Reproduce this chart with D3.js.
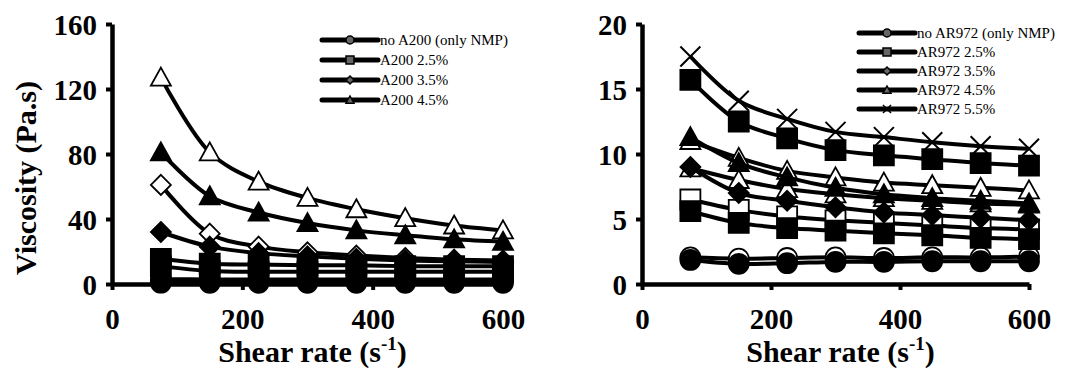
<!DOCTYPE html>
<html>
<head>
<meta charset="utf-8">
<script src="https://cdn.jsdelivr.net/npm/d3@7"></script>
<style>
  body { margin: 0; background: #fff; }
</style>
</head>
<body>
<div id="chart"></div>
<script>
// shear rate (1/s), same for every series
var shearRate = [75, 150, 225, 300, 375, 450, 525, 600];

// left panel: A200 (Pa.s)
var a200CircA = [3, 2.8, 2.8, 2.8, 2.8, 2.8, 2.8, 2.8];
var a200CircB = [0.8, 0.7, 0.7, 0.7, 0.7, 0.7, 0.7, 0.7];
var a200SqA = [15.5, 12.5, 12, 11.5, 11.5, 11, 11, 11];
var a200SqB = [11, 8, 7.5, 7.5, 7.5, 7.5, 7.5, 7.5];
var a200DiaOpen = [61, 31, 23, 19.5, 17.5, 16, 15, 14.5];
var a200DiaFill = [32, 23, 19, 17, 15.5, 14.5, 14, 13.5];
var a200TriOpen = [127, 81, 63, 53, 46, 40.5, 36, 33];
var a200TriFill = [81, 54, 44, 37.5, 33, 30, 27.5, 26];

// right panel: AR972 (Pa.s)
var ar972CircOpen = [2.05, 1.95, 2.0, 2.05, 2.0, 2.05, 2.05, 2.1];
var ar972CircFill = [1.85, 1.55, 1.6, 1.7, 1.7, 1.75, 1.75, 1.75];
var ar972SqOpen = [6.5, 5.7, 5.2, 4.9, 4.7, 4.5, 4.3, 4.2];
var ar972SqFill = [5.6, 4.7, 4.3, 4.1, 3.9, 3.75, 3.55, 3.45];
var ar972TriOpen2 = [8.9, 8.0, 7.3, 6.9, 6.6, 6.4, 6.2, 6.1];
var ar972DiaFill = [9.0, 7.0, 6.4, 5.9, 5.5, 5.3, 5.1, 4.9];
var ar972TriOpen = [11.0, 9.7, 8.7, 8.2, 7.8, 7.6, 7.4, 7.2];
var ar972TriFill = [11.3, 9.3, 8.2, 7.4, 6.9, 6.6, 6.4, 6.2];
var ar972Cross = [17.5, 14.1, 12.7, 11.7, 11.3, 10.9, 10.6, 10.4];
var ar972SqBig = [15.7, 12.5, 11.2, 10.3, 9.9, 9.6, 9.3, 9.1];

var xTicks = [0, 200, 400, 600];
var leftYTicks = [0, 40, 80, 120, 160];
var rightYTicks = [0, 5, 10, 15, 20];

var leftLegend = ["no A200 (only NMP)", "A200 2.5%", "A200 3.5%", "A200 4.5%"];
var rightLegend = ["no AR972 (only NMP)", "AR972 2.5%", "AR972 3.5%", "AR972 4.5%", "AR972 5.5%"];
var leftLegendShapes = ["circle", "square", "diamond", "triangle"];
var rightLegendShapes = ["circle", "square", "diamond", "triangle", "cross"];

var width = 1067, height = 371;
var serif = "'Liberation Serif'";

var svg = d3.select("#chart").append("svg")
  .attr("width", width)
  .attr("height", height);

// marker path, centred on 0,0
function markerPath(shape, s) {
  var h = s / 2;
  if (shape === "circle") {
    return "M" + h + ",0A" + h + "," + h + " 0 1,1 " + (-h) + ",0A" + h + "," + h + " 0 1,1 " + h + ",0Z";
  }
  if (shape === "square") {
    return "M" + (-h) + "," + (-h) + "H" + h + "V" + h + "H" + (-h) + "Z";
  }
  if (shape === "diamond") {
    return "M0," + (-h) + "L" + h + ",0L0," + h + "L" + (-h) + ",0Z";
  }
  if (shape === "triangle") {
    return "M0," + (-h) + "L" + h + "," + (h * 0.8) + "L" + (-h) + "," + (h * 0.8) + "Z";
  }
  // cross (x)
  return "M" + (-h) + "," + (-h) + "L" + h + "," + h + "M" + h + "," + (-h) + "L" + (-h) + "," + h;
}

function drawPanel(opt) {
  var g = svg.append("g");

  var xScale = d3.scaleLinear().domain([0, 600]).range([opt.x0, opt.x1]);
  var yScale = d3.scaleLinear().domain([0, opt.yMax]).range([284, 24]);

  var line = d3.line()
    .x(function(d) { return xScale(d[0]); })
    .y(function(d) { return yScale(d[1]); })
    .curve(d3.curveCatmullRom.alpha(0.5));

  opt.series.forEach(function(s) {
    var pts = shearRate.map(function(x, i) { return [x, s.values[i]]; });
    g.append("path")
      .attr("d", line(pts))
      .attr("fill", "none")
      .attr("stroke", "#000")
      .attr("stroke-width", 4);

    g.selectAll(null).data(pts).enter()
      .append("path")
      .attr("transform", function(d) { return "translate(" + xScale(d[0]) + "," + yScale(d[1]) + ")"; })
      .attr("d", markerPath(s.shape, 20))
      .attr("fill", s.shape === "cross" ? "none" : (s.open ? "#fff" : "#000"))
      .attr("stroke", "#000")
      .attr("stroke-width", s.shape === "cross" ? 2 : 1.8);
  });

  var xAxis = d3.axisBottom(xScale).tickValues(xTicks).tickSize(6).tickSizeOuter(0).tickPadding(18);
  var yAxis = d3.axisLeft(yScale).tickValues(opt.yTicks).tickSize(6).tickSizeOuter(0).tickPadding(9);

  var gx = g.append("g").attr("transform", "translate(0,284)").call(xAxis);
  var gy = g.append("g").attr("transform", "translate(" + opt.x0 + ",0)").call(yAxis);

  [gx, gy].forEach(function(a) {
    a.attr("font-family", null).attr("font-size", null);
    a.select(".domain").attr("stroke", "#000").attr("stroke-width", 4.5);
    a.selectAll(".tick line").attr("stroke", "#000").attr("stroke-width", 4);
    a.selectAll(".tick text")
      .attr("fill", "#000")
      .attr("font-family", serif)
      .attr("font-size", 29)
      .attr("font-weight", "bold");
  });
  gy.selectAll(".tick text").attr("dy", "0.35em");

  // x title with superscript
  var xt = g.append("text")
    .attr("font-family", serif)
    .attr("font-size", 30)
    .attr("font-weight", "bold")
    .attr("x", (opt.x0 + opt.x1) / 2 + 5)
    .attr("y", 362)
    .attr("text-anchor", "middle");
  xt.append("tspan").text("Shear rate (s");
  xt.append("tspan").attr("dy", -12).attr("font-size", 19).text("-1");
  xt.append("tspan").attr("dy", 12).text(")");

  if (opt.yTitle) {
    g.append("text")
      .attr("font-family", serif)
      .attr("font-size", 30)
      .attr("font-weight", "bold")
      .attr("transform", "translate(36,178)rotate(-90)")
      .attr("text-anchor", "middle")
      .text(opt.yTitle);
  }

  // legend
  var leg = g.append("g").attr("transform", "translate(" + opt.legX + "," + opt.legY + ")");
  opt.legend.forEach(function(name, i) {
    var row = leg.append("g").attr("transform", "translate(0," + (i * opt.legStep) + ")");
    row.append("line")
      .attr("x1", 0).attr("x2", 56)
      .attr("y1", 0).attr("y2", 0)
      .attr("stroke", "#000").attr("stroke-width", 5)
      .attr("stroke-linecap", "round");
    row.append("path")
      .attr("transform", "translate(28,0)")
      .attr("d", markerPath(opt.legendShapes[i], 8))
      .attr("fill", opt.legendShapes[i] === "cross" ? "none" : "#666")
      .attr("stroke", "#000")
      .attr("stroke-width", 1.5);
    row.append("text")
      .attr("font-family", serif)
      .attr("font-size", 15)
      .attr("x", 58)
      .attr("y", 5)
      .text(name);
  });
}

drawPanel({
  x0: 112, x1: 503, yMax: 160, yTicks: leftYTicks,
  yTitle: "Viscosity (Pa.s)",
  legX: 322, legY: 40, legStep: 20,
  legend: leftLegend, legendShapes: leftLegendShapes,
  series: [
    { values: a200TriOpen, shape: "triangle", open: true },
    { values: a200TriFill, shape: "triangle" },
    { values: a200DiaOpen, shape: "diamond", open: true },
    { values: a200DiaFill, shape: "diamond" },
    { values: a200SqA, shape: "square" },
    { values: a200SqB, shape: "square" },
    { values: a200CircA, shape: "circle" },
    { values: a200CircB, shape: "circle" }
  ]
});

drawPanel({
  x0: 642, x1: 1029, yMax: 20, yTicks: rightYTicks,
  yTitle: null,
  legX: 859, legY: 33, legStep: 19,
  legend: rightLegend, legendShapes: rightLegendShapes,
  series: [
    { values: ar972CircOpen, shape: "circle", open: true },
    { values: ar972CircFill, shape: "circle" },
    { values: ar972SqOpen, shape: "square", open: true },
    { values: ar972SqFill, shape: "square" },
    { values: ar972TriOpen2, shape: "triangle", open: true },
    { values: ar972DiaFill, shape: "diamond" },
    { values: ar972TriOpen, shape: "triangle", open: true },
    { values: ar972TriFill, shape: "triangle" },
    { values: ar972Cross, shape: "cross" },
    { values: ar972SqBig, shape: "square" }
  ]
});
</script>
</body>
</html>
